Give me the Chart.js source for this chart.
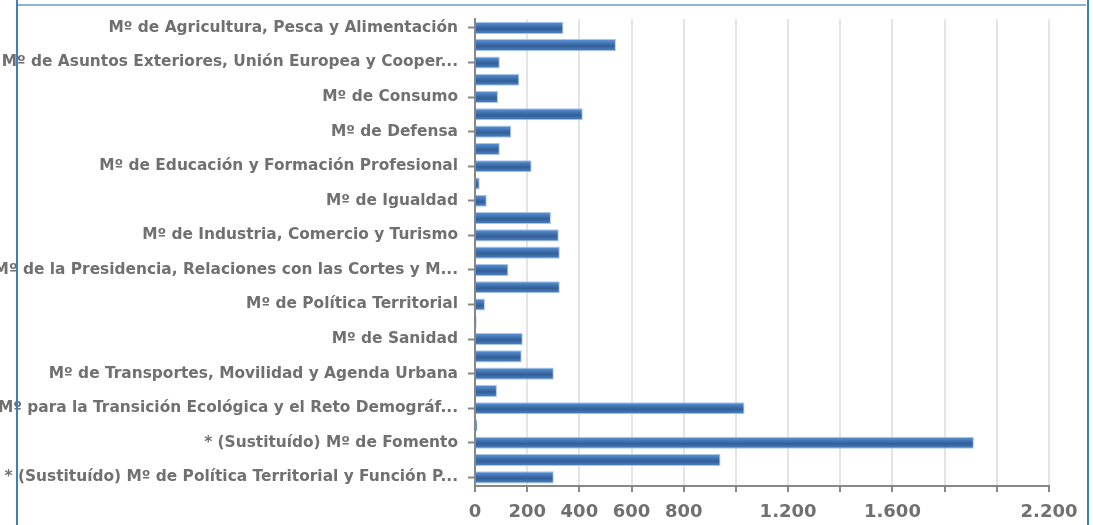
<!DOCTYPE html>
<html>
<head>
<meta charset="utf-8">
<script src="https://cdn.jsdelivr.net/npm/chart.js@4"></script>
<style>
  html, body { margin: 0; padding: 0; background: #fff; }
  #wrap { position: relative; width: 1093px; height: 525px; overflow: hidden; }
  #chart { position: absolute; left: 0; top: 0; }
  .frame { position: absolute; pointer-events: none; }
  #fLeft { left: 16px; top: 0; width: 2px; height: 525px; background: #3d7fc3; }
  #fRight { left: 1087px; top: 0; width: 2px; height: 525px; background: #3d7fc3; }
  #fTop { left: 18px; top: 4px; width: 1068px; height: 2px; background: #8fb3d8; }
</style>
</head>
<body>
<div id="wrap">
  <canvas id="chart" width="1093" height="525"></canvas>
  <div class="frame" id="fLeft"></div>
  <div class="frame" id="fRight"></div>
  <div class="frame" id="fTop"></div>
</div>
<script>
// Ministerios (sólo se ven uno de cada dos en el eje)
const categories = [
    'Mº de Agricultura, Pesca y Alimentación',
    'Mº de Asuntos Económicos y Transformación Digital',
    'Mº de Asuntos Exteriores, Unión Europea y Cooper...',
    'Mº de Ciencia e Innovación',
    'Mº de Consumo',
    'Mº de Cultura y Deporte',
    'Mº de Defensa',
    'Mº de Derechos Sociales y Agenda 2030',
    'Mº de Educación y Formación Profesional',
    'Mº de Hacienda',
    'Mº de Igualdad',
    'Mº de Inclusión, Seguridad Social y Migraciones',
    'Mº de Industria, Comercio y Turismo',
    'Mº de Justicia',
    'Mº de la Presidencia, Relaciones con las Cortes y M...',
    'Mº del Interior',
    'Mº de Política Territorial',
    'Mº de Política Territorial y Función Pública',
    'Mº de Sanidad',
    'Mº de Trabajo y Economía Social',
    'Mº de Transportes, Movilidad y Agenda Urbana',
    'Mº de Universidades',
    'Mº para la Transición Ecológica y el Reto Demográf...',
    '* (Sustituído) Mº de Ciencia, Innovación y Universidades',
    '* (Sustituído) Mº de Fomento',
    '* (Sustituído) Mº de la Presidencia',
    '* (Sustituído) Mº de Política Territorial y Función P...'
];

const values = [
    339, 540, 95, 170, 88, 413, 139, 95, 217, 18,
    45, 291, 321, 325, 128, 325, 38, 6, 183, 179,
    302, 84, 1033, 9, 1912, 941, 302
];

// Etiquetas visibles del eje X
const xTickLabels = [0, 200, 400, 600, 800, 1200, 1600, 2200];

const BAR_H = 12;
const textColor = '#707070';
const axisColor = '#878787';

function fmt(v) {
    return v.toLocaleString('de-DE');
}

// Degradado vertical de cada barra
function barGradient(context) {
    const chart = context.chart;
    const y = chart.scales && chart.scales.y;
    if (!y || context.dataIndex === undefined) return '#3f70ad';
    const yc = y.getPixelForValue(context.dataIndex);
    if (!isFinite(yc)) return '#3f70ad';
    const g = chart.ctx.createLinearGradient(0, yc - BAR_H / 2, 0, yc + BAR_H / 2);
    g.addColorStop(0, '#5e96db');
    g.addColorStop(0.45, '#3a6aa6');
    g.addColorStop(0.6, '#335f96');
    g.addColorStop(1, '#4e88cd');
    return g;
}

new Chart(document.getElementById('chart'), {
    type: 'bar',
    data: {
        labels: categories,
        datasets: [{
            data: values,
            backgroundColor: barGradient,
            borderColor: '#a9c6ea',
            borderWidth: 1,
            borderSkipped: 'left',
            barPercentage: 0.7,
            categoryPercentage: 1
        }]
    },
    options: {
        indexAxis: 'y',
        responsive: false,
        animation: false,
        layout: { padding: { top: 14.5, right: 44, bottom: 0, left: 0 } },
        plugins: {
            legend: { display: false },
            tooltip: { enabled: false }
        },
        scales: {
            x: {
                min: 0,
                max: 2200,
                afterFit: function(scale) { scale.height = 39; },
                ticks: {
                    stepSize: 200,
                    color: textColor,
                    font: { family: 'DejaVu Sans', size: 18, weight: 'bold' },
                    padding: 9.5,
                    maxRotation: 0,
                    autoSkip: false,
                    callback: function(value) {
                        return xTickLabels.includes(value) ? fmt(value) : '';
                    }
                },
                grid: {
                    color: '#e4e4e4',
                    lineWidth: 2,
                    tickLength: 6,
                    tickColor: axisColor,
                    tickWidth: 2
                },
                border: { display: true, color: axisColor, width: 2 }
            },
            y: {
                afterFit: function(scale) { scale.width = 475; },
                ticks: {
                    autoSkip: false,
                    color: textColor,
                    font: { family: 'DejaVu Sans', size: 15.4, weight: 'bold' },
                    padding: 10,
                    callback: function(value, index) {
                        return index % 2 === 0 ? categories[index] : '';
                    }
                },
                grid: {
                    offset: false,
                    drawOnChartArea: false,
                    drawTicks: true,
                    tickLength: 7,
                    tickWidth: 2,
                    tickColor: function(ctx) {
                        return ctx.index % 2 === 0 ? axisColor : 'rgba(0,0,0,0)';
                    }
                },
                border: { display: true, color: axisColor, width: 2 }
            }
        }
    }
});
</script>
</body>
</html>
